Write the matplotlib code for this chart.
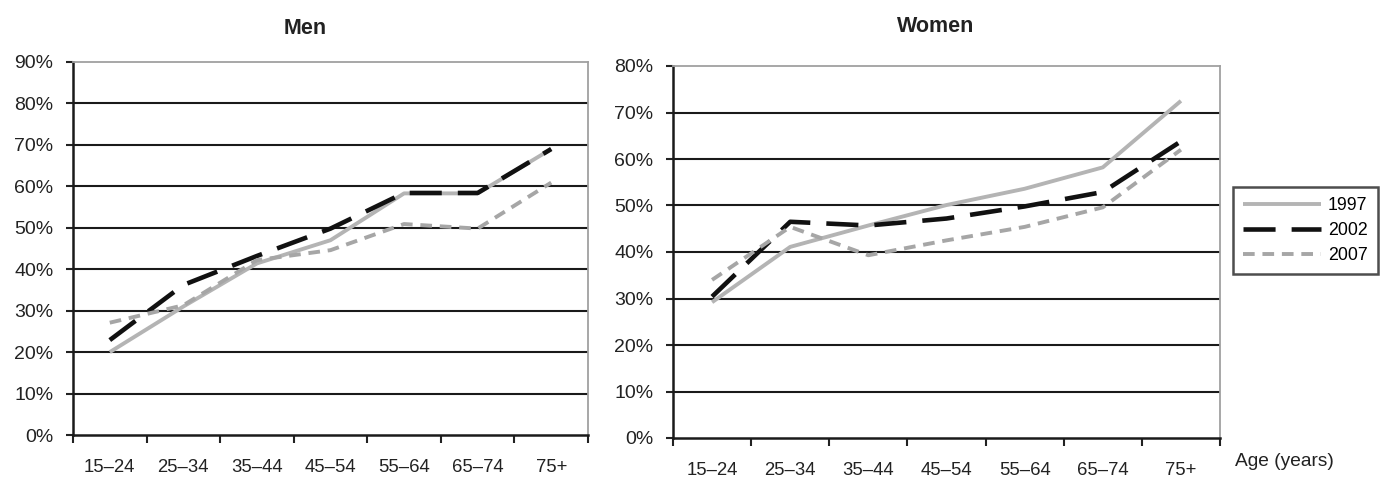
import matplotlib
matplotlib.use("Agg")
import matplotlib.pyplot as plt
from matplotlib.ticker import FuncFormatter, MultipleLocator

plt.rcParams['font.family'] = ['Liberation Sans', 'DejaVu Sans']

categories = ["15\u201324", "25\u201334", "35\u201344", "45\u201354", "55\u201364", "65\u201374", "75+"]
years = ["1997", "2002", "2007"]

men_1997 = [20.0, 31.0, 41.4, 47.0, 58.3, 58.3, 69.0]
men_2002 = [22.9, 36.2, 43.2, 49.8, 58.4, 58.4, 69.0]
men_2007 = [27.1, 31.3, 42.2, 44.6, 50.9, 49.8, 60.9]

women_1997 = [29.2, 41.1, 45.7, 50.1, 53.6, 58.2, 72.5]
women_2002 = [30.4, 46.5, 45.7, 47.2, 49.8, 52.9, 63.8]
women_2007 = [34.0, 45.4, 39.3, 42.5, 45.4, 49.6, 62.0]

W, H = 1384, 478
fig = plt.figure(figsize=(W / 100, H / 100), dpi=100)

def ax_rect(x0, y0, x1, y1):
    return [x0 / W, 1 - y1 / H, (x1 - x0) / W, (y1 - y0) / H]

ax1 = fig.add_axes(ax_rect(73, 62, 588, 435))
ax2 = fig.add_axes(ax_rect(673, 66, 1220, 438))

styles = [
    dict(color="#b4b4b4", lw=2.8, linestyle="-"),
    dict(color="#111111", lw=3.3, linestyle=(0, (7, 3.5))),
    dict(color="#a6a6a6", lw=2.8, linestyle=(0, (3, 2))),
]

def setup(ax, series, ymax):
    xs = [i + 0.5 for i in range(len(categories))]
    handles = []
    for vals, st, lab in zip(series, styles, years):
        h, = ax.plot(xs, vals, label=lab, solid_capstyle="butt", dash_capstyle="butt", zorder=3, **st)
        handles.append(h)
    ax.set_xlim(0, len(categories))
    ax.set_ylim(0, ymax)
    ax.yaxis.set_major_locator(MultipleLocator(10))
    ax.yaxis.set_major_formatter(FuncFormatter(lambda v, p: f"{int(round(v))}%"))
    ax.set_xticks(range(len(categories) + 1))
    ax.set_xticklabels([])
    ax.set_xticks(xs, minor=True)
    ax.set_xticklabels(categories, minor=True)
    ax.tick_params(axis="x", which="minor", length=0, pad=17, labelsize=13.3, colors="#222222")
    ax.tick_params(axis="x", which="major", length=6, width=1.5, direction="out", color="#222222")
    ax.tick_params(axis="y", which="major", length=5, width=1.5, direction="out", pad=9,
                   labelsize=14, color="#222222", labelcolor="#222222")
    for y in range(10, int(ymax), 10):
        ax.axhline(y, color="#1a1a1a", lw=1.5, zorder=1)
    ax.spines["left"].set_color("#1a1a1a")
    ax.spines["left"].set_linewidth(1.8)
    ax.spines["bottom"].set_color("#1a1a1a")
    ax.spines["bottom"].set_linewidth(1.8)
    ax.spines["top"].set_color("#a0a0a0")
    ax.spines["top"].set_linewidth(1.3)
    ax.spines["right"].set_color("#a0a0a0")
    ax.spines["right"].set_linewidth(1.3)
    return handles

setup(ax1, [men_1997, men_2002, men_2007], 90)
fig.text(305 / W, 1 - 28 / H, "Men", ha="center", va="center", fontsize=15.5,
         fontweight="bold", color="#222222")

handles = setup(ax2, [women_1997, women_2002, women_2007], 80)
fig.text(936 / W, 1 - 26 / H, "Women", ha="center", va="center", fontsize=15.5,
         fontweight="bold", color="#222222")

leg = fig.legend(handles=handles, labels=years, loc="upper left",
                 bbox_to_anchor=(1233 / W, 1 - 187 / H), borderaxespad=0,
                 frameon=True, fancybox=False,
                 fontsize=12.8, handlelength=4.4, handletextpad=0.4, borderpad=0.55,
                 labelspacing=0.45, edgecolor="#222222")
leg.get_frame().set_linewidth(1.8)

fig.text(1235 / W, 1 - 462 / H, "Age (years)", ha="left", va="center", fontsize=13.8, color="#222222")

fig.savefig("out.png", dpi=100, facecolor="white")
